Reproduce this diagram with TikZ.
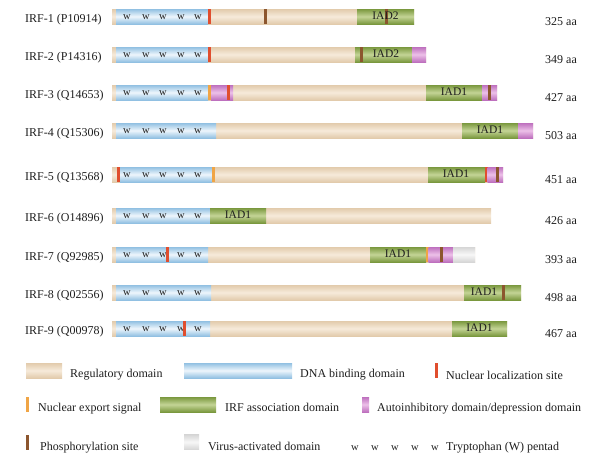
\documentclass[tikz,border=0pt]{standalone}
\usepackage{fontspec}
\setmainfont{Liberation Serif}

\definecolor{regE}{RGB}{226,203,172}
\definecolor{regC}{RGB}{246,234,218}
\definecolor{dbdE}{RGB}{145,192,226}
\definecolor{dbdC}{RGB}{238,246,252}
\definecolor{iadE}{RGB}{122,152,62}
\definecolor{iadC}{RGB}{196,212,150}
\definecolor{aidE}{RGB}{190,112,190}
\definecolor{aidC}{RGB}{236,192,232}
\definecolor{vadE}{RGB}{214,214,214}
\definecolor{vadC}{RGB}{247,247,247}
\definecolor{nlsC}{RGB}{224,78,46}
\definecolor{nesC}{RGB}{240,165,70}
\definecolor{phoC}{RGB}{140,86,46}
\definecolor{txt}{RGB}{30,30,30}

\tikzset{
  reg/.style={top color=regE, bottom color=regE, middle color=regC},
  dbd/.style={top color=dbdE, bottom color=dbdE, middle color=dbdC},
  iad/.style={top color=iadE, bottom color=iadE, middle color=iadC},
  aid/.style={top color=aidE, bottom color=aidE, middle color=aidC},
  vad/.style={top color=vadE, bottom color=vadE, middle color=vadC},
  lbl/.style={font=\fontsize{12}{14}\selectfont, text=txt, inner sep=0pt, anchor=base west},
  iadtxt/.style={font=\fontsize{11.5}{13}\selectfont, text=txt, inner sep=0pt, anchor=base},
  wlet/.style={font=\fontsize{10.5}{11}\selectfont, text=txt, inner sep=0pt, anchor=base}
}

% domain box {x1}{x2}{y centre}{style}
\newcommand{\dom}[4]{\shade[#4] (#1,{#3-7.5}) rectangle (#2,{#3+7.5});}
% site mark {x}{y centre}{colour}
\newcommand{\site}[3]{\fill[#3] ({#1-1.5},{#2-7.5}) rectangle ({#1+1.5},{#2+7.5});}
% tryptophan pentad in the DNA binding domain
\newcommand{\wpent}[1]{\foreach \wx in {127,146,163,181,198} \node[wlet] at (\wx,{#1+2.5}) {w};}

\begin{document}
\begin{tikzpicture}[x=1pt,y=-1pt]
\useasboundingbox (0,0) rectangle (603,459);

% IRF-1
\node[lbl](irf1) at (25,22.5){IRF-1 (P10914)};
\dom{112}{414}{16.5}{reg}
\dom{116}{208}{16.5}{dbd}
\wpent{16.5}
\site{209.5}{16.5}{nlsC}
\site{265}{16.5}{phoC}
\dom{357}{414}{16.5}{iad}
\site{386}{16.5}{phoC}
\node[iadtxt](iad1) at (385.5,19.5){IAD2};
\node[lbl](aa1) at (545,25.5){325 aa};

% IRF-2
\node[lbl](irf2) at (25,60.5){IRF-2 (P14316)};
\dom{112}{426}{54.5}{reg}
\dom{116}{208}{54.5}{dbd}
\wpent{54.5}
\site{209.5}{54.5}{nlsC}
\dom{355}{412}{54.5}{iad}
\site{361}{54.5}{phoC}
\dom{412}{426}{54.5}{aid}
\node[iadtxt](iad2) at (386,57.5){IAD2};
\node[lbl](aa2) at (545,63){349 aa};

% IRF-3
\node[lbl](irf3) at (25,98.5){IRF-3 (Q14653)};
\dom{112}{497}{92.5}{reg}
\dom{116}{208}{92.5}{dbd}
\wpent{92.5}
\site{209.5}{92.5}{nesC}
\dom{211}{233}{92.5}{aid}
\site{228}{92.5}{nlsC}
\dom{426}{482}{92.5}{iad}
\dom{482}{497}{92.5}{aid}
\site{489}{92.5}{phoC}
\node[iadtxt](iad3) at (454,95.5){IAD1};
\node[lbl](aa3) at (545,101){427 aa};

% IRF-4
\node[lbl](irf4) at (25,136.5){IRF-4 (Q15306)};
\dom{112}{533}{130.5}{reg}
\dom{116}{216}{130.5}{dbd}
\wpent{130.5}
\dom{462}{518}{130.5}{iad}
\dom{518}{533}{130.5}{aid}
\node[iadtxt](iad4) at (490,133.5){IAD1};
\node[lbl](aa4) at (545,139){503 aa};

% IRF-5
\node[lbl](irf5) at (25,180.5){IRF-5 (Q13568)};
\dom{112}{503}{174.5}{reg}
\dom{120}{212}{174.5}{dbd}
\site{118}{174.5}{nlsC}
\wpent{174.5}
\site{213}{174.5}{nesC}
\dom{428}{485}{174.5}{iad}
\site{486}{174.5}{nlsC}
\dom{487.5}{503}{174.5}{aid}
\site{497}{174.5}{phoC}
\node[iadtxt](iad5) at (456,177.5){IAD1};
\node[lbl](aa5) at (545,183){451 aa};

% IRF-6
\node[lbl](irf6) at (25,221.5){IRF-6 (O14896)};
\dom{112}{491}{215.5}{reg}
\dom{116}{210}{215.5}{dbd}
\wpent{215.5}
\dom{210}{266}{215.5}{iad}
\node[iadtxt](iad6) at (238,218.5){IAD1};
\node[lbl](aa6) at (545,224){426 aa};

% IRF-7
\node[lbl](irf7) at (25,260.5){IRF-7 (Q92985)};
\dom{112}{475}{254.5}{reg}
\dom{116}{208}{254.5}{dbd}
\wpent{254.5}
\site{167}{254.5}{nlsC}
\dom{370}{426}{254.5}{iad}
\site{427}{254.5}{nesC}
\dom{428.5}{453}{254.5}{aid}
\site{441}{254.5}{phoC}
\dom{453}{475}{254.5}{vad}
\node[iadtxt](iad7) at (398,257.5){IAD1};
\node[lbl](aa7) at (545,263){393 aa};

% IRF-8
\node[lbl](irf8) at (25,298.5){IRF-8 (Q02556)};
\dom{112}{521}{292.5}{reg}
\dom{116}{211}{292.5}{dbd}
\wpent{292.5}
\dom{464}{521}{292.5}{iad}
\site{503}{292.5}{phoC}
\node[iadtxt](iad8) at (484,295.5){IAD1};
\node[lbl](aa8) at (545,301){498 aa};

% IRF-9
\node[lbl](irf9) at (25,334.5){IRF-9 (Q00978)};
\dom{112}{507}{328.5}{reg}
\dom{116}{210}{328.5}{dbd}
\wpent{328.5}
\site{184}{328.5}{nlsC}
\dom{452}{507}{328.5}{iad}
\node[iadtxt](iad9) at (479.5,331.5){IAD1};
\node[lbl](aa9) at (545,337){467 aa};

% legend
\dom{26}{62}{370.5}{reg}
\node[lbl](lreg) at (70,377){Regulatory domain};
\dom{184}{292}{370.5}{dbd}
\node[lbl](ldbd) at (300,377.5){DNA binding domain};
\site{436}{370.5}{nlsC}
\node[lbl](lnls) at (446,379.5){Nuclear localization site};

\site{27}{404.5}{nesC}
\node[lbl](lnes) at (38,411){Nuclear export signal};
\dom{160}{216}{404.5}{iad}
\node[lbl](liad) at (225,411.5){IRF association domain};
\dom{362}{369}{404.5}{aid}
\node[lbl](laid) at (377,411.5){Autoinhibitory domain/depression domain};

\site{27}{442}{phoC}
\node[lbl](lpho) at (40,450){Phosphorylation site};
\dom{184}{199}{442}{vad}
\node[lbl](lvad) at (208,450){Virus-activated domain};
\foreach \wx in {355,375,395,415,435} \node[wlet] at (\wx,450){w};
\node[lbl](ltrp) at (446,450){Tryptophan (W) pentad};
\end{tikzpicture}
\end{document}
